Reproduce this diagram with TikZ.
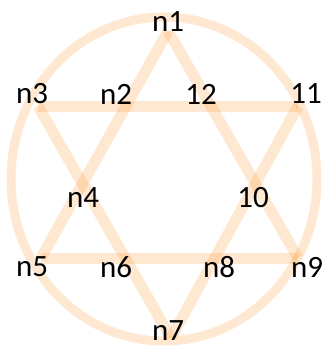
\documentclass[tikz,border=0pt]{standalone}
\usepackage{fontspec}
\setmainfont{Carlito}
\tikzset{
  ring/.style={draw=orange,draw opacity=0.18,line width=9pt},
  edgeln/.style={draw=orange,draw opacity=0.18,line width=11pt},
  lbl/.style={font=\fontsize{31}{33}\selectfont,inner sep=0pt}
}
\begin{document}
\begin{tikzpicture}[x=1pt,y=-1pt]
  \useasboundingbox (0,0) rectangle (331,349);
  % outer points of the star
  \coordinate (c) at (164,179);
  \coordinate (p1) at (168,31);
  \coordinate (p5) at (41,258);
  \coordinate (p9) at (298,258);
  \coordinate (p3) at (38,106);
  \coordinate (p11) at (298,106);
  \coordinate (p7) at (171,338);

  \draw[ring] (c) ellipse [x radius=153pt, y radius=162pt];

  % upward triangle
  \draw[edgeln] (p1) -- (p5);
  \draw[edgeln] (p5) -- (p9);
  \draw[edgeln] (p9) -- (p1);
  % downward triangle
  \draw[edgeln] (p3) -- (p11);
  \draw[edgeln] (p11) -- (p7);
  \draw[edgeln] (p7) -- (p3);

  % labels
  \node[lbl] (n1) at (168,22) {n1};
  \node[lbl] (n3) at (32,94) {n3};
  \node[lbl] (n2) at (116,94) {n2};
  \node[lbl] (n12) at (201,94) {12};
  \node[lbl] (n11) at (306,94) {11};
  \node[lbl] (n4) at (83,198) {n4};
  \node[lbl] (n10) at (253,198) {10};
  \node[lbl] (n5) at (32,267) {n5};
  \node[lbl] (n6) at (116,267) {n6};
  \node[lbl] (n8) at (219,267) {n8};
  \node[lbl] (n9) at (307,267) {n9};
  \node[lbl] (n7) at (168,331) {n7};
\end{tikzpicture}
\end{document}
